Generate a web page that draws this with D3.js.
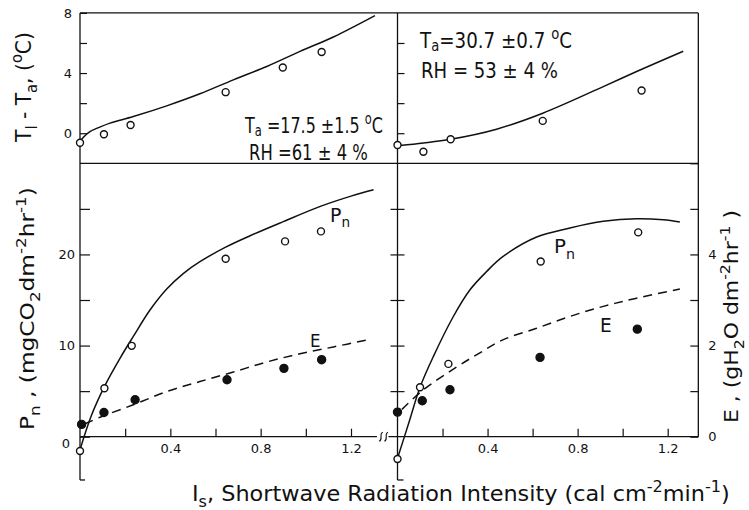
<!DOCTYPE html>
<html>
<head>
<meta charset="utf-8">
<script src="https://cdn.jsdelivr.net/npm/d3@7"></script>
<style>
  html, body { margin: 0; padding: 0; background: #fff; }
  svg { display: block; }
</style>
</head>
<body>
<svg id="chart" width="749" height="510"></svg>
<script>
// ---------------- DATA ----------------
// Top panels: leaf-air temperature difference (°C)
const tlLeftX = [0, 0.106, 0.224, 0.645, 0.898, 1.07];
const tlLeftY = [-0.63, -0.07, 0.55, 2.73, 4.37, 5.40];
const tlLeftCurveX = [0.007, 0.044, 0.09, 0.133, 0.236, 0.384, 0.531, 0.679, 0.827, 0.974, 1.122, 1.306];
const tlLeftCurveY = [-0.4, 0.1, 0.42, 0.67, 1.11, 1.82, 2.62, 3.55, 4.44, 5.44, 6.4, 7.82];

const tlRightX = [0, 0.115, 0.236, 0.645, 1.084];
const tlRightY = [-0.78, -1.23, -0.4, 0.82, 2.84];
const tlRightCurveX = [0.01, 0.115, 0.236, 0.44, 0.645, 0.914, 1.062, 1.269];
const tlRightCurveY = [-0.82, -0.65, -0.4, 0.27, 1.33, 3.1, 4.1, 5.45];

// Bottom panels: net photosynthesis Pn (mg CO2 dm-2 hr-1) and transpiration E (g H2O dm-2 hr-1)
const pnLeftX = [0, 0.108, 0.229, 0.645, 0.908, 1.067];
const pnLeftY = [-1.57, 5.32, 9.97, 19.53, 21.43, 22.53];
const pnLeftCurveX = [0.003, 0.05, 0.108, 0.177, 0.236, 0.31, 0.384, 0.457, 0.531, 0.645, 0.753, 0.9, 1.067, 1.2, 1.3];
const pnLeftCurveY = [-1.2, 2.3, 5.5, 8.6, 11.0, 13.9, 16.2, 17.9, 19.2, 20.8, 22.05, 23.6, 25.3, 26.4, 27.1];

const eLeftX = [0.007, 0.106, 0.244, 0.651, 0.903, 1.07];
const eLeftY = [0.27, 0.53, 0.81, 1.25, 1.50, 1.69];
const eLeftCurveX = [0.02, 0.1, 0.236, 0.384, 0.531, 0.679, 0.827, 0.974, 1.122, 1.27];
const eLeftCurveY = [0.28, 0.45, 0.70, 0.99, 1.21, 1.42, 1.64, 1.82, 1.97, 2.12];

const pnRightX = [0, 0.10, 0.226, 0.636, 1.069];
const pnRightY = [-2.45, 5.43, 7.99, 19.23, 22.42];
const pnRightCurveX = [0, 0.05, 0.1, 0.159, 0.248, 0.322, 0.396, 0.469, 0.618, 0.766, 0.914, 1.062, 1.18, 1.254];
const pnRightCurveY = [-2.37, 1.5, 5.43, 8.79, 13.19, 16.12, 18.13, 19.78, 21.91, 22.9, 23.63, 23.92, 23.81, 23.56];

const eRightX = [0, 0.11, 0.233, 0.633, 1.065];
const eRightY = [0.54, 0.79, 1.03, 1.74, 2.36];
const eRightCurveX = [0.02, 0.115, 0.263, 0.366, 0.47, 0.618, 0.766, 0.914, 1.062, 1.254];
const eRightCurveY = [0.6, 1.03, 1.53, 1.84, 2.13, 2.38, 2.64, 2.86, 3.04, 3.24];

// Ticks
const xTicks = [0.2, 0.4, 0.6, 0.8, 1.0, 1.2];
const xTickLabels = [0.4, 0.8, 1.2];
const tTicks = [0, 2, 4, 6, 8];
const tTickLabels = [0, 4, 8];
const pnTicks = [0, 5, 10, 15, 20, 25];
const pnTickLabels = [0, 10, 20];
const eTicks = [0, 1, 2, 3, 4, 5, 6];
const eTickLabels = [0, 2, 4];

// ---------------- DRAW ----------------
const FONT = "'DejaVu Sans', sans-serif";
const INK = "#111";
const svg = d3.select("#chart");
svg.append("rect").attr("width", 749).attr("height", 510).attr("fill", "#fff");

const xL = d3.scaleLinear().domain([0, 1.2]).range([80, 351]);
const xR = d3.scaleLinear().domain([0, 1.2]).range([397.5, 667.7]);
const yT = d3.scaleLinear().domain([-2, 8]).range([163.3, 12.9]);
const yP = d3.scaleLinear().domain([0, 30]).range([436.7, 163.3]);
const yE = d3.scaleLinear().domain([0, 6]).range([436.7, 163.3]);

const zip = (a, b) => a.map((v, i) => [v, b[i]]);

function seg(x1, y1, x2, y2, w = 1.3) {
  svg.append("line").attr("x1", x1).attr("y1", y1).attr("x2", x2).attr("y2", y2)
    .attr("stroke", INK).attr("stroke-width", w);
}

// Frame lines
seg(xL(0), yT(8), xR(1.336), yT(8));          // top border
seg(xL(0), yT(-2), xR(1.336), yT(-2));        // divider between panels
seg(xL(0), yT(8), xL(0), yP(-4.75));          // left axis
seg(xL(0), yP(-4.75), xL(0) + 5, yP(-4.75));  // foot
seg(xR(0), yT(8), xR(0), yP(-4.75));          // middle axis
seg(xR(0), yP(-4.75), xR(0) + 6, yP(-4.75));  // foot
seg(xR(1.336), yT(8), xR(1.336), yP(0));      // right axis
seg(xL(0), yP(0), xL(1.315), yP(0));          // left x axis
seg(xR(-0.04), yP(0), xR(1.336), yP(0));      // right x axis

// break marks
[xL(1.333), xL(1.356)].forEach(bx => {
  const by = yP(0);
  svg.append("path")
    .attr("d", `M${bx + 1.8},${by - 4.5} C${bx - 2.5},${by - 3} ${bx + 2.5},${by + 3} ${bx - 1.8},${by + 4.5}`)
    .attr("fill", "none").attr("stroke", INK).attr("stroke-width", 1.1);
});

function styleAxis(g) {
  g.select(".domain").remove();
  g.selectAll(".tick line").attr("stroke", INK).attr("stroke-width", 1.2);
  g.selectAll(".tick text").attr("fill", INK).attr("font-family", FONT).attr("font-size", 13);
}
const fmt = labels => d => labels.includes(d) ? String(d) : "";

// Top-left y axis
svg.append("g").attr("transform", `translate(${xL(0)},0)`)
  .call(d3.axisLeft(yT).tickValues(tTicks).tickSizeInner(-7).tickSizeOuter(0).tickPadding(8).tickFormat(fmt(tTickLabels)))
  .call(styleAxis);
// Top-right (middle) y axis ticks
svg.append("g").attr("transform", `translate(${xR(0)},0)`)
  .call(d3.axisRight(yT).tickValues([0, 2, 4, 6]).tickSizeInner(7).tickSizeOuter(0).tickFormat(""))
  .call(styleAxis);

// Bottom-left y axis
const gPL = svg.append("g").attr("transform", `translate(${xL(0)},0)`)
  .call(d3.axisLeft(yP).tickValues(pnTicks).tickSizeInner(-10).tickSizeOuter(0).tickPadding(5).tickFormat(fmt(pnTickLabels)))
  .call(styleAxis);
gPL.selectAll(".tick text").filter(d => d === 0).attr("dy", "0.85em").attr("x", -10);

// Middle axis crossing ticks (bottom)
svg.append("g").attr("transform", `translate(${xR(0)},0)`)
  .call(d3.axisLeft(yP).tickValues([5, 10, 15, 20, 25]).tickSizeInner(7).tickSizeOuter(0).tickFormat(""))
  .call(styleAxis);
svg.append("g").attr("transform", `translate(${xR(0)},0)`)
  .call(d3.axisRight(yP).tickValues([5, 10, 15, 20, 25]).tickSizeInner(7).tickSizeOuter(0).tickFormat(""))
  .call(styleAxis);

// Right E axis
svg.append("g").attr("transform", `translate(${xR(1.336)},0)`)
  .call(d3.axisRight(yE).tickValues(eTicks).tickSizeInner(-8).tickSizeOuter(0).tickPadding(10).tickFormat(fmt(eTickLabels)))
  .call(styleAxis);

// X axes
[xL, xR].forEach(xs => {
  svg.append("g").attr("transform", `translate(0,${yP(0)})`)
    .call(d3.axisBottom(xs).tickValues(xTicks).tickSizeInner(-8).tickSizeOuter(0).tickPadding(7).tickFormat(fmt(xTickLabels)))
    .call(styleAxis);
});

// Curves
function curve(xs, ys, cx, cy, dashed) {
  const line = d3.line().x(d => xs(d[0])).y(d => ys(d[1])).curve(d3.curveCatmullRom.alpha(0.5));
  svg.append("path").datum(zip(cx, cy)).attr("d", line)
    .attr("fill", "none").attr("stroke", INK).attr("stroke-width", 1.5)
    .attr("stroke-dasharray", dashed ? "9,6" : null);
}
curve(xL, yT, tlLeftCurveX, tlLeftCurveY, false);
curve(xR, yT, tlRightCurveX, tlRightCurveY, false);
curve(xL, yP, pnLeftCurveX, pnLeftCurveY, false);
curve(xR, yP, pnRightCurveX, pnRightCurveY, false);
curve(xL, yE, eLeftCurveX, eLeftCurveY, true);
curve(xR, yE, eRightCurveX, eRightCurveY, true);

// Points
function points(xs, ys, px, py, filled) {
  svg.append("g").selectAll("circle").data(zip(px, py)).join("circle")
    .attr("cx", d => xs(d[0])).attr("cy", d => ys(d[1]))
    .attr("r", filled ? 4 : 3.5)
    .attr("fill", filled ? INK : "#fff")
    .attr("stroke", INK).attr("stroke-width", 1.4);
}
points(xL, yE, eLeftX, eLeftY, true);
points(xR, yE, eRightX, eRightY, true);
points(xL, yT, tlLeftX, tlLeftY, false);
points(xR, yT, tlRightX, tlRightY, false);
points(xL, yP, pnLeftX, pnLeftY, false);
points(xR, yP, pnRightX, pnRightY, false);

// Rich text helper (sub/superscripts), scaled horizontally to a target width
function rich(x, y, parts, size, width, rot = 0, subShift = 0.28) {
  const t = svg.append("text").attr("font-family", FONT).attr("font-size", size).attr("fill", INK);
  let shift = 0;
  parts.forEach(([s, kind]) => {
    const ts = t.append("tspan").text(s);
    const target = kind === "sub" ? subShift : kind === "sup" ? -0.42 : 0;
    const dy = (target - shift) * size;
    shift = target;
    if (dy !== 0) ts.attr("dy", dy);
    if (kind) ts.attr("font-size", size * 0.72);
  });
  const w = t.node().getComputedTextLength();
  const s = width / w;
  t.attr("transform", `translate(${x},${y}) rotate(${rot}) scale(${s},1)`);
  return t;
}

rich(245, 133, [["T"], ["a", "sub"], [" =17.5 ±1.5 "], ["o", "sup"], ["C"]], 21, 138, 0, 0.12);
rich(249, 159.5, [["RH =61 ± 4 %"]], 21, 119);
rich(420, 48, [["T"], ["a", "sub"], ["=30.7 ±0.7 "], ["o", "sup"], ["C"]], 21, 152, 0, 0.12);
rich(421, 78, [["RH = 53 ± 4  %"]], 21, 137);

rich(330, 221.5, [["P"], ["n", "sub"]], 20, 20);
rich(554, 253, [["P"], ["n", "sub"]], 20, 21);
rich(310, 346.5, [["E"]], 18, 10.5);
rich(600, 331.5, [["E"]], 20, 11.7);

rich(192, 501, [["I"], ["s", "sub"], [", Shortwave Radiation Intensity (cal cm"], ["-2", "sup"], ["min"], ["-1", "sup"], [")"]], 21, 538);
rich(31, 142, [["T"], ["l", "sub"], [" - T"], ["a", "sub"], [", ("], ["o", "sup"], ["C)"]], 21, 110, -90);
rich(34, 430, [["P"], ["n", "sub"], [" , (mgCO"], ["2", "sub"], ["dm"], ["-2", "sup"], ["hr"], ["-1", "sup"], [")"]], 20, 243, -90);
rich(738, 423, [["E , (gH"], ["2", "sub"], ["O dm"], ["-2", "sup"], ["hr"], ["-1", "sup"], [" )"]], 20, 213, -90);
</script>
</body>
</html>
